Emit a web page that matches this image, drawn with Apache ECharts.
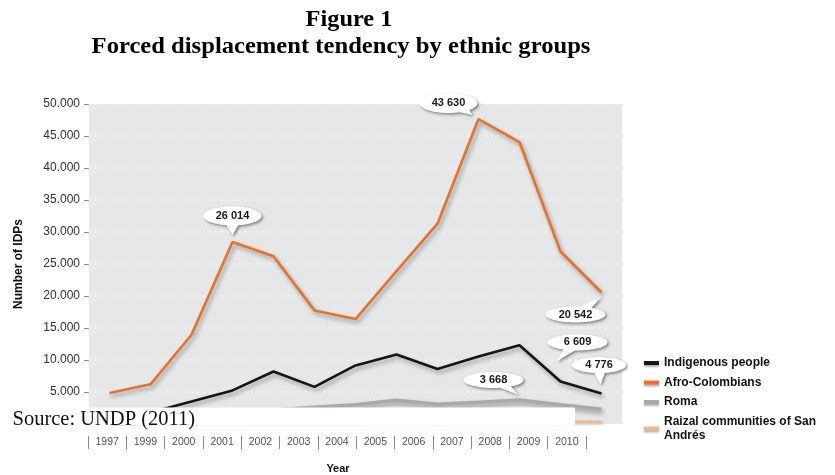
<!DOCTYPE html>
<html><head><meta charset="utf-8">
<script src="https://cdn.jsdelivr.net/npm/echarts@6/dist/echarts.min.js"></script>
<style>html,body{margin:0;padding:0;background:#fff}#c{width:835px;height:475px}</style>
</head><body><div id="c"></div>
<script>
// ---- data ----
const years = ['1997','1999','2000','2001','2002','2003','2004','2005','2006','2007','2008','2009','2010'];
const indigenous = [900, 1800, 3500, 5250, 8200, 5800, 9150, 10850, 8600, 10550, 12300, 6650, 4750];
const afroColombians = [4850, 6200, 13950, 28450, 26200, 17750, 16400, 23900, 31300, 47650, 44050, 26950, 20550];
const roma = [600, 900, 1400, 1800, 2200, 2600, 3000, 3700, 3100, 3400, 3750, 3000, 2300];
const raizal = [100, 150, 250, 300, 350, 400, 450, 500, 450, 550, 500, 400, 350];
const seriesNames = ['Indigenous people', 'Afro-Colombians', 'Roma', 'Raizal communities of San Andrés'];
const yMin = 0, yMax = 50000, yStep = 5000;
const calloutValues = [26014, 43630, 20542, 6609, 4776, 3668];

// ---- styling ----
const colors = ['#151515', '#e8712b', '#a9a9a9', '#f5b68c'];
const seriesData = [indigenous, afroColombians, roma, raizal];

function fmtSpace(v) { return String(v).replace(/\B(?=(\d{3})+(?!\d))/g, ' '); }

// callout geometry (offsets relative to anchored data point)
const callouts = [
  { s: 1, i: 3,  c: [0, -26],    t: [0, -7],  rx: 29, ry: 9.5 },
  { s: 1, i: 9,  c: [-30, -16],  t: [-6, -4], rx: 29, ry: 10 },
  { s: 1, i: 12, c: [-26, 22],   t: [0, 4],   rx: 30, ry: 8 },
  { s: 0, i: 11, c: [17, -39],   t: [-4, -20], rx: 30, ry: 8 },
  { s: 0, i: 12, c: [-2.5, -28.5], t: [-1, -9], rx: 27, ry: 8 },
  { s: 2, i: 10, c: [-26, -20],  t: [-1, -5], rx: 30, ry: 8 }
];

function bubbleItem(cb, k) {
  const [cx, cy] = cb.c, [tx, ty] = cb.t, rx = cb.rx, ry = cb.ry;
  const th = Math.atan2((ty - cy) / ry, (tx - cx) / rx);
  const d = 0.2, N = 60;
  const pts = [];
  for (let n = 0; n <= N; n++) {
    const a = th + d + (2 * Math.PI - 2 * d) * n / N;
    pts.push([cx + rx * Math.cos(a), cy + ry * Math.sin(a)]);
  }
  pts.push([tx, ty]);
  let minx = Infinity, maxx = -Infinity, miny = Infinity, maxy = -Infinity;
  pts.forEach(p => { minx = Math.min(minx, p[0]); maxx = Math.max(maxx, p[0]); miny = Math.min(miny, p[1]); maxy = Math.max(maxy, p[1]); });
  const path = 'path://M' + pts.map(p => p[0].toFixed(2) + ',' + p[1].toFixed(2)).join(' L') + ' Z';
  const bcx = (minx + maxx) / 2, bcy = (miny + maxy) / 2;
  return {
    coord: [years[cb.i], seriesData[cb.s][cb.i]],
    symbol: path,
    symbolSize: [maxx - minx, maxy - miny],
    symbolOffset: [bcx, bcy],
    itemStyle: { color: '#ffffff', shadowBlur: 3, shadowColor: 'rgba(0,0,0,0.45)', shadowOffsetX: 1.5, shadowOffsetY: 1.5 },
    label: {
      show: true, position: 'inside', offset: [cx - bcx, cy - bcy],
      formatter: fmtSpace(calloutValues[k]),
      color: '#1a1a1a', fontWeight: 'bold', fontSize: 11, fontFamily: 'Liberation Sans'
    }
  };
}

const series = seriesNames.map((name, s) => {
  const marks = [];
  callouts.forEach((cb, k) => { if (cb.s === s) marks.push(bubbleItem(cb, k)); });
  const ser = {
    name, type: 'line', data: seriesData[s], xAxisIndex: 0, yAxisIndex: 0,
    symbol: 'none', z: 3 + (s === 1 ? 1 : 0),
    lineStyle: { color: colors[s], width: s === 2 ? 3.5 : 2.6, shadowColor: 'rgba(0,0,0,0.35)', shadowBlur: 4, shadowOffsetX: 2, shadowOffsetY: 3 },
    itemStyle: { color: colors[s] },
    emphasis: { disabled: true }
  };
  if (marks.length) ser.markPoint = { data: marks, animation: false, z: 10 };
  return ser;
});

const chart = echarts.init(document.getElementById('c'), null, { renderer: 'canvas' });
chart.setOption({
  animation: false,
  backgroundColor: '#ffffff',
  grid: [
    { left: 89, right: 213, top: 104, bottom: 51, show: true, backgroundColor: '#e6e7e8', borderWidth: 0 },
    { left: 88, right: 249, top: 424, height: 12, show: false }
  ],
  xAxis: [
    { type: 'category', data: years, gridIndex: 0, boundaryGap: true,
      axisLine: { show: false }, axisTick: { show: false }, axisLabel: { show: false }, splitLine: { show: false } },
    { type: 'category', data: years, gridIndex: 1, position: 'bottom', boundaryGap: true,
      axisLine: { show: false },
      axisTick: { show: true, inside: false, length: 13, alignWithLabel: false, lineStyle: { color: '#8a8a8a', width: 1 } },
      axisLabel: { show: true, inside: false, margin: 1, interval: 0, color: '#555', fontSize: 10.5, fontFamily: 'Liberation Sans' },
      splitLine: { show: false } }
  ],
  yAxis: [{
    type: 'value', gridIndex: 0, min: yMin, max: yMax, interval: yStep,
    name: 'Number of IDPs', nameLocation: 'middle', nameGap: 64, nameRotate: 90,
    nameTextStyle: { fontSize: 12, fontWeight: 'bold', color: '#111', fontFamily: 'Liberation Sans' },
    axisLine: { show: false },
    axisTick: { show: true, length: 5, lineStyle: { color: '#888' } },
    axisLabel: { margin: 9, color: '#333', fontSize: 12, fontFamily: 'Liberation Sans',
      formatter: v => v === 0 ? '' : (v / 1000).toFixed(3) },
    splitLine: { show: true, lineStyle: { color: '#ffffff', width: 1.5, type: [1.5, 4.5] } }
  }, {
    type: 'value', gridIndex: 1, show: false, min: 0, max: 1,
    axisLine: { show: false }, axisTick: { show: false }, axisLabel: { show: false }, splitLine: { show: false }
  }],
  legend: {
    show: true, orient: 'vertical', left: 639, top: 351, itemWidth: 15, itemHeight: 4, itemGap: 5.5,
    icon: 'rect', data: seriesNames,
    formatter: n => n === seriesNames[3] ? 'Raizal communities of San\nAndrés' : n,
    textStyle: { fontSize: 12, fontWeight: 'bold', color: '#111', fontFamily: 'Liberation Sans', lineHeight: 14 },
    itemStyle: { shadowColor: 'rgba(0,0,0,0.3)', shadowBlur: 2, shadowOffsetY: 2 }
  },
  series,
  graphic: [
    { type: 'text', z: 100, x: 349, y: 20, scaleX: 1.06, style: { text: 'Figure 1', x: 0, y: 0, textAlign: 'center', textVerticalAlign: 'middle', fill: '#000', font: 'bold 23px "Liberation Serif"' } },
    { type: 'text', z: 100, x: 341, y: 47, scaleX: 1.07, style: { text: 'Forced displacement tendency by ethnic groups', x: 0, y: 0, textAlign: 'center', textVerticalAlign: 'middle', fill: '#000', font: 'bold 23px "Liberation Serif"' } },
    { type: 'rect', z: 100, shape: { x: 0, y: 407.5, width: 575, height: 17.5 }, style: { fill: '#ffffff' } },
    { type: 'text', z: 101, style: { text: 'Source: UNDP (2011)', x: 12.5, y: 420, textAlign: 'left', textVerticalAlign: 'middle', fill: '#111', font: '20.5px "Liberation Serif"' } },
    { type: 'text', z: 100, style: { text: 'Year', x: 338, y: 469, textAlign: 'center', textVerticalAlign: 'middle', fill: '#111', font: 'bold 11px "Liberation Sans"' } }
  ]
});
</script>
</body></html>
